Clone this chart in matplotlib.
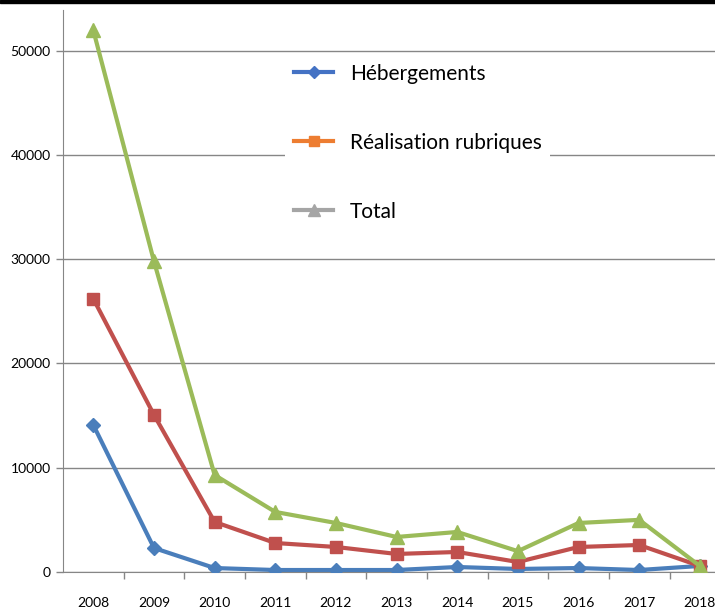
import matplotlib
matplotlib.use('Agg')
import matplotlib.pyplot as plt
from matplotlib.lines import Line2D
from matplotlib.patches import Rectangle

years = ['2008', '2009', '2010', '2011', '2012', '2013', '2014', '2015', '2016', '2017', '2018']
hebergements = [14100, 2300, 380, 190, 190, 190, 480, 290, 380, 190, 580]
realisation = [26200, 15070, 4800, 2780, 2400, 1730, 1920, 960, 2400, 2590, 580]
total = [51950, 29800, 9300, 5760, 4700, 3360, 3840, 2000, 4700, 5000, 580]

plt.rcParams['font.family'] = ['Lato', 'DejaVu Sans']

fig = plt.figure(figsize=(7.15, 6.09), dpi=100)
ax = fig.add_axes([63/715, 37/609, 652/715, 562/609])

x = list(range(len(years)))
ax.plot(x, hebergements, color='#4A7EBB', lw=3, marker='D', ms=7, zorder=3)
ax.plot(x, realisation, color='#C0504D', lw=3, marker='s', ms=9, zorder=3)
ax.plot(x, total, color='#9BBB59', lw=3, marker='^', ms=10, zorder=3)

ax.set_xlim(-0.5, 10.25)
ax.set_ylim(0, 53900)
ax.set_yticks([0, 10000, 20000, 30000, 40000, 50000])
ax.set_xticks(x)
ax.set_xticklabels(years)
ax.set_xticks([i + 0.5 for i in range(10)], minor=True)
ax.tick_params(axis='x', which='major', length=0, pad=18, labelsize=10)
ax.tick_params(axis='x', which='minor', length=5, color='#868686', width=1)
ax.tick_params(axis='y', length=5, color='#868686', width=1, labelsize=10, pad=4)
ax.grid(axis='y', color='#868686', lw=1)
ax.set_axisbelow(True)
for s in ['top', 'right']:
    ax.spines[s].set_visible(False)
ax.spines['left'].set_color('#868686')
ax.spines['bottom'].set_color('#868686')

handles = [
    Line2D([], [], color='#4472C4', lw=3, marker='D', ms=6),
    Line2D([], [], color='#ED7D31', lw=3, marker='s', ms=7),
    Line2D([], [], color='#A5A5A5', lw=3, marker='^', ms=8),
]
leg = ax.legend(handles, ['Hébergements', 'Réalisation rubriques', 'Total'],
                loc='upper left', bbox_to_anchor=(212/652, 527/562),
                fontsize=15, frameon=True, labelspacing=2.35,
                handlelength=1.9, handletextpad=0.8, borderpad=0.4)
leg.get_frame().set_edgecolor('none')
leg.get_frame().set_facecolor('white')
leg.get_frame().set_alpha(1)

fig.patches.append(Rectangle((0, 1 - 3/609), 1, 3/609, transform=fig.transFigure,
                             color='black', zorder=10))

fig.savefig('out.png', dpi=100)
